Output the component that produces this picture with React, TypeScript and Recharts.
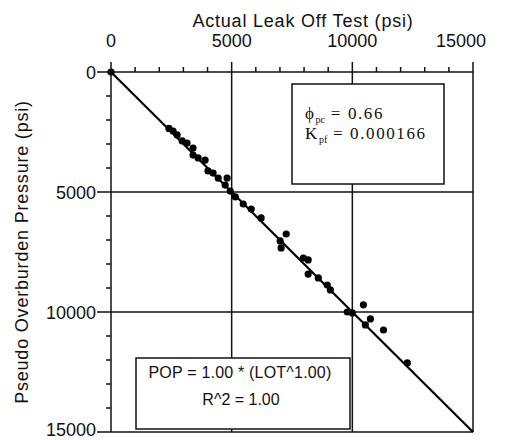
import React from 'react';
import {
  ScatterChart,
  Scatter,
  XAxis,
  YAxis,
  ReferenceLine,
  Label,
} from 'recharts';

// actual leak off test (x) vs pseudo overburden pressure (y), psi
const lot = [
  0, 2400, 2570, 2740, 2950, 3150, 3400, 3400, 3610, 3900, 4020, 4230, 4440,
  4810, 4730, 4940, 5150, 5480, 5810, 6220, 7010, 7260, 7050, 7970, 8170, 8170,
  8590, 8960, 9090, 9790, 10000, 10460, 10750, 10540, 11290, 12280,
];
const pop = [
  0, 2350, 2460, 2620, 2870, 2960, 3170, 3460, 3580, 3670, 4120, 4210, 4420,
  4420, 4710, 4960, 5200, 5500, 5710, 6080, 7040, 6750, 7330, 7750, 7830, 8420,
  8580, 8875, 9080, 10000, 10040, 9700, 10290, 10540, 10750, 12120,
];

// fitted curve POP = 1.00 * LOT^1.00, drawn between its end points
const fitLot = [0, 15000];
const fitPop = [0, 15000];

const xTicks = [0, 1000, 2000, 3000, 4000, 5000, 6000, 7000, 8000, 9000, 10000, 11000, 12000, 13000, 14000, 15000];
const yTicks = [0, 1000, 2000, 3000, 4000, 5000, 6000, 7000, 8000, 9000, 10000, 11000, 12000, 13000, 14000, 15000];
const labelledTicks = [0, 5000, 10000, 15000];
const gridValues = [5000, 10000, 15000];

const points = lot.map((x, i) => ({ lot: x, pop: pop[i] }));
const fitData = fitLot.map((x, i) => ({ lot: x, pop: fitPop[i] }));

const SANS = '"Liberation Sans", Arial, sans-serif';
const SERIF = '"Liberation Serif", "Times New Roman", serif';
const INK = '#111';

const XTick = ({ x, y, payload }: any) => {
  const major = labelledTicks.includes(payload.value);
  return (
    <g>
      <line x1={x} x2={x} y1={y} y2={y - (major ? 10 : 5)} stroke={INK} strokeWidth={1.5} />
      {major && (
        <text
          x={x + (payload.value === 15000 ? -12 : 0)}
          y={y - 25}
          textAnchor="middle"
          fontSize={18}
          fontFamily={SANS}
          fill={INK}
        >
          {payload.value}
        </text>
      )}
    </g>
  );
};

const YTick = ({ x, y, payload }: any) => {
  const major = labelledTicks.includes(payload.value);
  // last label sits a little higher so it stays inside the frame
  const lift = payload.value === 15000 ? 3 : 0;
  return (
    <g>
      <line x1={x - (major ? 14 : 5)} x2={x} y1={y} y2={y} stroke={INK} strokeWidth={1.5} />
      {major && (
        <text x={x - 15} y={y + 6.5 - lift} textAnchor="end" fontSize={18} fontFamily={SANS} fill={INK}>
          {payload.value}
        </text>
      )}
    </g>
  );
};

const Dot = (props: any) => <circle cx={props.cx} cy={props.cy} r={3.6} fill="#000" />;

export default function App() {
  return (
    <div style={{ position: 'absolute', left: 0, top: 0, width: 508, height: 440, background: '#fff' }}>
      <ScatterChart width={508} height={440} margin={{ top: 12, right: 35, bottom: 8, left: 11 }}>
        <XAxis
          dataKey="lot"
          type="number"
          orientation="top"
          domain={[0, 15000]}
          ticks={xTicks}
          interval={0}
          height={60}
          tickSize={0}
          tickMargin={0}
          tickLine={false}
          tick={XTick}
          axisLine={{ stroke: INK, strokeWidth: 1.5 }}
        >
          <Label
            content={() => (
              <text x={303} y={27} textAnchor="middle" fontSize={18} letterSpacing={0.8} fontFamily={SANS} fill={INK}>
                Actual Leak Off Test (psi)
              </text>
            )}
          />
        </XAxis>
        <YAxis
          dataKey="pop"
          type="number"
          reversed
          domain={[0, 15000]}
          ticks={yTicks}
          interval={0}
          width={100}
          tickSize={0}
          tickMargin={0}
          tickLine={false}
          tick={YTick}
          axisLine={{ stroke: INK, strokeWidth: 1.5 }}
        >
          <Label
            content={() => (
              <text
                transform="translate(28,252) rotate(-90)"
                textAnchor="middle"
                fontSize={18}
                letterSpacing={0.8}
                fontFamily={SANS}
                fill={INK}
              >
                Pseudo Overburden Pressure (psi)
              </text>
            )}
          />
        </YAxis>
        {gridValues.map((v) => (
          <ReferenceLine key={'x' + v} x={v} stroke={INK} strokeWidth={1.5} />
        ))}
        {gridValues.map((v) => (
          <ReferenceLine key={'y' + v} y={v} stroke={INK} strokeWidth={1.5} />
        ))}
        <Scatter
          data={fitData}
          line={{ stroke: '#000', strokeWidth: 2.2 }}
          shape={() => <g />}
          isAnimationActive={false}
        />
        <Scatter data={points} shape={Dot} isAnimationActive={false} />
      </ScatterChart>

      {/* annotation boxes */}
      <svg width={508} height={440} style={{ position: 'absolute', left: 0, top: 0, pointerEvents: 'none' }}>
        <rect x={292} y={84} width={152} height={100} fill="#fff" stroke={INK} strokeWidth={1.5} />
        <text x={305} y={119} fontFamily={SERIF} fontSize={17} letterSpacing={1.6} fill={INK}>
          ϕ<tspan dy={4} fontSize={10} letterSpacing={0}>pc</tspan>
          <tspan dy={-4}> = 0.66</tspan>
        </text>
        <text x={305} y={139} fontFamily={SERIF} fontSize={17} letterSpacing={1.6} fill={INK}>
          K<tspan dy={4} fontSize={10} letterSpacing={0}>pf</tspan>
          <tspan dy={-4}> = 0.000166</tspan>
        </text>

        <rect x={136} y={358} width={214} height={71} fill="#fff" stroke={INK} strokeWidth={1.5} />
        <text x={240} y={378} textAnchor="middle" fontFamily={SANS} fontSize={16} letterSpacing={0.2} fill={INK}>
          POP = 1.00 * (LOT^1.00)
        </text>
        <text x={241} y={405} textAnchor="middle" fontFamily={SANS} fontSize={16} fill={INK}>
          R^2 = 1.00
        </text>
      </svg>
    </div>
  );
}
